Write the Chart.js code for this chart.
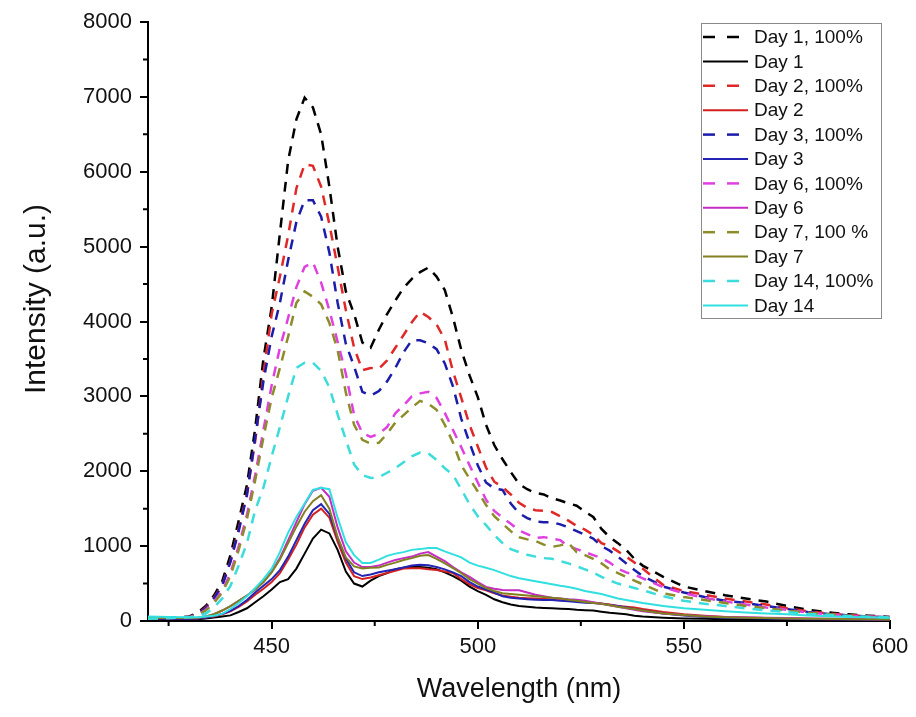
<!DOCTYPE html>
<html>
<head>
<meta charset="UTF-8">
<title>Intensity vs Wavelength</title>
<script src="https://cdn.jsdelivr.net/npm/chart.js"></script>
<style>
	body {
		margin: 0;
		padding: 0;
		background: #fff;
	}

	#chart {
		display: block;
	}
</style>
</head>
<body>
<canvas id="chart" width="916" height="717"></canvas>
<script>
	// wavelength grid (nm)
	var wavelengths = [420, 425, 430, 432, 434, 436, 438, 440, 442, 444,
		446, 448, 450, 452, 454, 456, 458, 460, 462, 464,
		466, 468, 470, 472, 474, 476, 478, 480, 482, 484,
		486, 488, 490, 492, 494, 496, 498, 500, 502, 504,
		506, 508, 510, 512, 514, 516, 518, 520, 522, 524,
		526, 528, 530, 532, 534, 536, 538, 540, 545, 550,
		555, 560, 565, 570, 575, 580, 585, 590, 595, 600];

	var seriesNames = ['Day 1, 100%', 'Day 1', 'Day 2, 100%', 'Day 2', 'Day 3, 100%', 'Day 3',
		'Day 6, 100%', 'Day 6', 'Day 7, 100 %', 'Day 7', 'Day 14, 100%', 'Day 14'];

	var day1Full = [30, 40, 60, 110, 200, 340, 530, 880, 1340, 1815,
		2570, 3500, 4190, 5180, 6150, 6700, 6990, 6860, 6500, 5800,
		5000, 4400, 4100, 3720, 3650, 3890, 4100, 4280, 4450, 4570,
		4660, 4720, 4600, 4420, 4050, 3620, 3280, 2990, 2620, 2350,
		2160, 1990, 1830, 1760, 1710, 1690, 1640, 1610, 1570, 1540,
		1460, 1390, 1230, 1120, 1040, 950, 830, 740, 590, 460,
		400, 345, 300, 260, 200, 150, 115, 90, 70, 55];
	var day1 = [20, 20, 20, 25, 35, 45, 60, 75, 120, 170,
		250, 330, 420, 520, 560, 700, 900, 1100, 1220, 1170,
		950, 660, 500, 460, 540, 600, 640, 690, 710, 720,
		720, 710, 690, 650, 600, 540, 460, 400, 350, 290,
		250, 220, 200, 190, 180, 175, 170, 165, 160, 150,
		145, 140, 125, 110, 100, 90, 70, 60, 45, 35,
		30, 25, 25, 20, 20, 20, 15, 15, 15, 15];
	var day2Full = [30, 40, 55, 95, 180, 310, 480, 800, 1230, 1700,
		2400, 3300, 4100, 4600, 5150, 5780, 6100, 6080, 5800, 5300,
		4730, 4150, 3650, 3350, 3380, 3370, 3480, 3650, 3820, 3990,
		4130, 4060, 3960, 3760, 3330, 2980, 2620, 2330, 2050, 1860,
		1790, 1690, 1580, 1510, 1480, 1470, 1455, 1400, 1340, 1270,
		1220, 1150, 1040, 1000, 930, 860, 780, 700, 480, 400,
		350, 300, 260, 220, 170, 130, 100, 80, 60, 50];
	var day2 = [30, 30, 30, 35, 45, 60, 90, 130, 190, 260,
		350, 430, 520, 640, 820, 1020, 1250, 1420, 1500, 1380,
		1060, 780, 600, 560, 580, 610, 640, 670, 700, 705,
		705, 690, 680, 660, 640, 560, 490, 440, 410, 370,
		340, 325, 310, 305, 300, 295, 290, 285, 280, 270,
		255, 245, 235, 220, 200, 190, 180, 160, 120, 90,
		70, 55, 45, 40, 35, 30, 25, 25, 20, 20];
	var day3Full = [30, 40, 55, 90, 170, 300, 470, 790, 1200, 1680,
		2450, 3200, 3800, 4250, 4820, 5330, 5620, 5620, 5400, 4920,
		4250, 3700, 3400, 3060, 3010, 3070, 3200, 3380, 3590, 3750,
		3750, 3710, 3630, 3440, 3130, 2700, 2380, 2080, 1850, 1770,
		1750, 1570, 1440, 1375, 1330, 1320, 1320, 1290, 1250, 1200,
		1150, 1100, 1000, 940, 860, 770, 680, 600, 460, 380,
		320, 270, 240, 200, 160, 120, 95, 75, 60, 50];
	var day3 = [30, 30, 30, 35, 45, 65, 95, 135, 200, 280,
		380, 470, 560, 680, 860, 1080, 1300, 1480, 1560, 1430,
		1110, 830, 650, 600, 620, 650, 670, 690, 715, 740,
		750, 745, 720, 690, 650, 600, 520, 460, 420, 380,
		330, 310, 300, 290, 285, 280, 280, 270, 265, 255,
		245, 240, 230, 215, 200, 180, 160, 140, 100, 75,
		55, 45, 40, 35, 30, 25, 25, 20, 20, 20];
	var day6Full = [30, 40, 50, 80, 150, 260, 400, 640, 1000, 1420,
		1950, 2550, 3150, 3650, 4050, 4460, 4730, 4790, 4520, 4150,
		3730, 3300, 2750, 2510, 2460, 2500, 2590, 2775, 2880, 3000,
		3040, 3060, 2980, 2780, 2550, 2320, 2080, 1850, 1620, 1470,
		1380, 1300, 1210, 1160, 1110, 1120, 1100, 1080, 1000, 960,
		920, 880, 840, 780, 700, 650, 620, 570, 450, 370,
		310, 260, 220, 180, 150, 115, 90, 70, 60, 50];
	var day6 = [40, 40, 40, 45, 60, 90, 140, 200, 270, 340,
		420, 520, 660, 840, 1080, 1320, 1560, 1740, 1780, 1660,
		1250, 930, 780, 720, 720, 740, 780, 815, 840, 860,
		900, 920, 860, 800, 720, 650, 590, 520, 455, 430,
		415, 410, 410, 380, 350, 330, 310, 300, 290, 285,
		270, 250, 230, 210, 190, 170, 150, 130, 100, 80,
		65, 55, 50, 45, 40, 35, 30, 30, 25, 25];
	var day7Full = [30, 40, 50, 75, 140, 240, 380, 600, 950, 1360,
		1880, 2450, 2980, 3380, 3800, 4250, 4400, 4330, 4230, 3980,
		3620, 3050, 2620, 2420, 2370, 2380, 2500, 2650, 2750, 2850,
		2940, 2900, 2820, 2620, 2380, 2080, 1900, 1730, 1550, 1400,
		1300, 1200, 1120, 1090, 1070, 1020, 990, 1010, 1040, 920,
		880, 830, 770, 690, 640, 590, 540, 490, 370, 320,
		280, 240, 200, 170, 140, 110, 90, 70, 55, 45];
	var day7 = [40, 40, 40, 45, 60, 90, 140, 200, 270, 340,
		420, 520, 650, 820, 1040, 1260, 1460, 1600, 1680, 1500,
		1120, 850, 730, 700, 710, 715, 750, 780, 815, 840,
		870, 880, 830, 770, 705, 640, 560, 500, 440, 400,
		370, 360, 350, 340, 330, 320, 310, 300, 285, 270,
		255, 240, 230, 210, 190, 175, 160, 140, 100, 80,
		60, 50, 45, 40, 35, 30, 30, 25, 25, 20];
	var day14Full = [30, 40, 50, 60, 100, 180, 300, 470, 740, 1040,
		1480, 1780, 2200, 2590, 3000, 3380, 3450, 3450, 3340, 3120,
		2760, 2420, 2090, 1950, 1910, 1920, 1980, 2040, 2120, 2200,
		2250, 2240, 2150, 2040, 1950, 1760, 1560, 1400, 1280, 1150,
		1040, 960, 920, 885, 860, 840, 830, 800, 770, 730,
		690, 650, 590, 540, 500, 470, 440, 410, 330, 270,
		230, 200, 170, 140, 120, 95, 80, 65, 55, 45];
	var day14 = [60, 55, 50, 50, 60, 70, 95, 160, 240, 330,
		440, 560, 700, 920, 1180, 1390, 1570, 1750, 1780, 1760,
		1380, 1050, 880, 775, 775, 820, 870, 900, 920, 950,
		960, 975, 975, 930, 890, 850, 780, 740, 710, 680,
		640, 600, 570, 550, 530, 510, 490, 470, 455, 430,
		400, 380, 360, 330, 300, 280, 260, 240, 200, 170,
		150, 130, 115, 100, 90, 75, 65, 55, 50, 45];

	var allSeries = [day1Full, day1, day2Full, day2, day3Full, day3,
		day6Full, day6, day7Full, day7, day14Full, day14];

	// axis ticks
	var xTicks = [450, 500, 550, 600];
	var xMinorTicks = [425, 475, 525, 575];
	var yTicks = [0, 1000, 2000, 3000, 4000, 5000, 6000, 7000, 8000];
	var yMinorTicks = [500, 1500, 2500, 3500, 4500, 5500, 6500, 7500];
	var yTitle = 'Intensity (a.u.)';

	// styles
	var lineColors = ['#000000', '#000000', '#e02828', '#d42020', '#1c1caa', '#2424b4',
		'#e040e0', '#c42cc4', '#8c8c2a', '#808020', '#3cdcdc', '#30e0e0'];
	var fontFamily = '"Liberation Sans", Arial, sans-serif';

	var datasets = allSeries.map(function (values, i) {
		var dashed = i % 2 === 0;
		return {
			label: seriesNames[i],
			data: values.map(function (v, j) { return { x: wavelengths[j], y: v }; }),
			borderColor: lineColors[i],
			borderWidth: dashed ? 2.5 : 2,
			borderDash: dashed ? [10, 8] : [],
			pointRadius: 0,
			tension: 0,
			fill: false,
			order: allSeries.length - i
		};
	});

	// minor ticks, y title, framed legend
	var extras = {
		id: 'extras',
		afterDraw: function (chart) {
			var ctx = chart.ctx;
			var xs = chart.scales.x;
			var ys = chart.scales.y;
			ctx.save();
			ctx.strokeStyle = '#000';
			ctx.lineWidth = 2;
			ctx.beginPath();
			xMinorTicks.forEach(function (v) {
				var px = xs.getPixelForValue(v);
				ctx.moveTo(px, ys.bottom);
				ctx.lineTo(px, ys.bottom + 5);
			});
			yMinorTicks.forEach(function (v) {
				var py = ys.getPixelForValue(v);
				ctx.moveTo(xs.left, py);
				ctx.lineTo(xs.left - 5, py);
			});
			ctx.stroke();

			// y axis title, a bit above the axis centre as in the original
			ctx.save();
			ctx.translate(37, ys.getPixelForValue(4300));
			ctx.rotate(-Math.PI / 2);
			ctx.font = '30px ' + fontFamily;
			ctx.fillStyle = '#111';
			ctx.textAlign = 'center';
			ctx.textBaseline = 'middle';
			ctx.fillText(yTitle, 0, 0);
			ctx.restore();

			ctx.strokeStyle = '#8a8a8a';
			ctx.lineWidth = 1;
			ctx.strokeRect(701.5, 23.5, 180, 295);
			ctx.font = '19px ' + fontFamily;
			ctx.textBaseline = 'middle';
			ctx.textAlign = 'left';
			chart.data.datasets.forEach(function (ds, i) {
				var y = 37 + i * 24.4;
				ctx.beginPath();
				ctx.strokeStyle = ds.borderColor;
				ctx.lineWidth = ds.borderWidth;
				ctx.setLineDash(ds.borderDash.length ? [12, 12] : []);
				ctx.moveTo(703, y);
				ctx.lineTo(748, y);
				ctx.stroke();
				ctx.setLineDash([]);
				ctx.fillStyle = '#111';
				ctx.fillText(ds.label, 754, y + 1);
			});
			ctx.restore();
		}
	};

	function plainLabel(value) {
		return String(value);
	}

	new Chart(document.getElementById('chart').getContext('2d'), {
		type: 'line',
		data: { datasets: datasets },
		options: {
			responsive: false,
			animation: false,
			layout: { padding: { top: 22, right: 26, left: 0, bottom: 0 } },
			plugins: {
				legend: { display: false },
				tooltip: { enabled: false }
			},
			scales: {
				x: {
					type: 'linear',
					min: 420,
					max: 600,
					afterBuildTicks: function (s) { s.ticks = xTicks.map(function (v) { return { value: v }; }); },
					afterFit: function (s) { s.height = 96; },
					grid: { display: true, drawOnChartArea: false, drawTicks: true, tickLength: 8, color: '#000', lineWidth: 2 },
					border: { display: true, color: '#000', width: 2 },
					ticks: { color: '#111', font: { size: 22, family: fontFamily }, padding: 5, maxRotation: 0, callback: plainLabel },
					title: { display: true, text: 'Wavelength (nm)', color: '#111', font: { size: 27, family: fontFamily }, padding: { bottom: 11 } }
				},
				y: {
					type: 'linear',
					min: 0,
					max: 8000,
					afterBuildTicks: function (s) { s.ticks = yTicks.map(function (v) { return { value: v }; }); },
					afterFit: function (s) { s.width = 148; },
					grid: { display: true, drawOnChartArea: false, drawTicks: true, tickLength: 8, color: '#000', lineWidth: 2 },
					border: { display: true, color: '#000', width: 2 },
					ticks: { color: '#111', font: { size: 22, family: fontFamily }, padding: 8, callback: plainLabel }
				}
			}
		},
		plugins: [extras]
	});
</script>
</body>
</html>
